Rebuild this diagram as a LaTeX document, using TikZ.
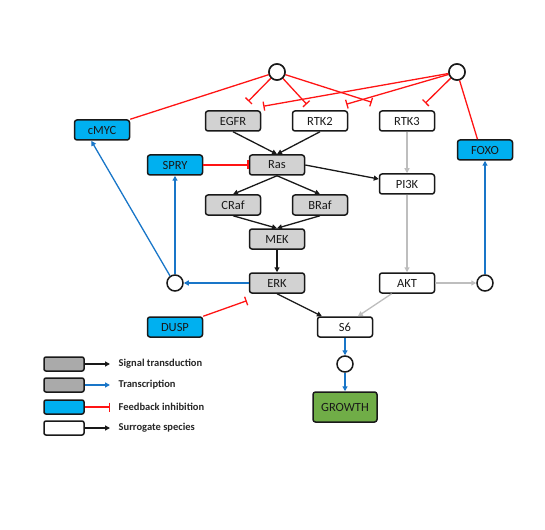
\documentclass[tikz,border=0pt]{standalone}
\usepackage{fontspec}
\setmainfont{Carlito}
\usepackage{tikz}
\usetikzlibrary{arrows.meta, calc}
\definecolor{sigGray}{RGB}{210, 210, 210}
\definecolor{legGray}{RGB}{170, 170, 170}
\definecolor{fbBlue}{RGB}{0, 176, 240}
\definecolor{txBlue}{RGB}{25, 118, 200}
\definecolor{surGray}{RGB}{190, 190, 190}
\definecolor{inhRed}{RGB}{255, 20, 20}
\definecolor{growGreen}{RGB}{112, 173, 71}

\begin{document}
\begin{tikzpicture}[x=1pt, y=-1pt, line width=1.3pt,
  species/.style={draw=black!90, line width=1.5pt, rounded corners=2.5pt, minimum width=55pt,
    minimum height=20pt, inner sep=0pt, font=\fontsize{12.5}{14}\selectfont, text=black!90},
  signal/.style={species, fill=sigGray},
  feedback/.style={species, fill=fbBlue},
  surrogate/.style={species, fill=white},
  junction/.style={draw=black!90, line width=1.5pt, fill=white, circle, minimum size=16pt, inner sep=0pt},
  legbox/.style={draw=black!90, line width=1.5pt, rounded corners=2pt, minimum width=40pt, minimum height=14pt, inner sep=0pt},
  legtext/.style={anchor=west, inner sep=2pt, font=\fontsize{10.5}{12}\selectfont\bfseries, text=black!85},
  act/.style={-{Triangle[length=5pt, width=5pt]}, color=black!90},
  surr/.style={-{Triangle[length=5pt, width=5pt]}, color=surGray},
  trans/.style={-{Triangle[length=5pt, width=5pt]}, color=txBlue},
  inhib/.style={-{Bar[width=9pt]}, color=inhRed},
  fbline/.style={color=inhRed}]
  \useasboundingbox (0, 0) rectangle (545, 529);

  % feedback hubs
  \node[junction] (hubA) at (277, 72) {};
  \node[junction] (hubB) at (457, 72) {};

  \node[feedback] (cmyc) at (102, 130) {cMYC};
  \node[signal] (egfr) at (233, 121) {EGFR};
  \node[surrogate] (rtk2) at (320, 121) {RTK2};
  \node[surrogate] (rtk3) at (407, 121) {RTK3};
  \node[feedback] (foxo) at (485, 150) {FOXO};

  \node[feedback] (spry) at (175, 165) {SPRY};
  \node[signal] (ras) at (277, 165) {Ras};
  \node[surrogate] (pi3k) at (407, 184) {PI3K};
  \node[signal] (craf) at (233, 205) {CRaf};
  \node[signal] (braf) at (320, 205) {BRaf};
  \node[signal] (mek) at (277, 239) {MEK};

  \node[junction] (hubL) at (175, 283) {};
  \node[signal] (erk) at (277, 283) {ERK};
  \node[surrogate] (akt) at (407, 283) {AKT};
  \node[junction] (hubR) at (485, 283) {};

  \node[feedback] (dusp) at (175, 327) {DUSP};
  \node[surrogate] (s6) at (345, 327) {S6};
  \node[junction] (hubS) at (345, 364) {};
  \node[species, fill=growGreen, minimum width=64pt, minimum height=30pt] (growth) at (345, 407) {GROWTH};

  % signal transduction
  \draw[act] (egfr.south) -- (ras.north);
  \draw[act] (rtk2.south) -- (ras.north);
  \draw[act] (ras.south) -- (craf.north);
  \draw[act] (ras.south) -- (braf.north);
  \draw[act] (craf.south) -- (mek.north);
  \draw[act] (braf.south) -- (mek.north);
  \draw[act] (ras.east) -- (pi3k.170);
  \draw[act] (mek.south) -- (erk.north);
  \draw[act] (erk.south) -- (s6.155);

  \draw[surr] (rtk3.south) -- (pi3k.north);
  \draw[surr] (pi3k.south) -- (akt.north);
  \draw[surr] (akt.east) -- (hubR.west);
  \draw[surr] (akt.-145) -- (s6.40);

  % transcription
  \draw[trans] (erk.west) -- (hubL.east);
  \draw[trans] (hubL.north) -- (spry.south);
  \draw[trans] (hubL.125) -- (cmyc.-135);
  \draw[trans] (hubR.north) -- (foxo.south);
  \draw[trans] (s6.south) -- (hubS.north);
  \draw[trans] (hubS.south) -- (growth.north);

  % feedback inhibition
  \draw[inhib] (spry.east) -- (ras.west);
  \draw[inhib] (dusp.north east) -- ($(erk.south west)+(-2, 7)$);
  \draw[fbline] (cmyc.north east) -- (hubA);
  \draw[fbline] (foxo.125) -- (hubB);
  \draw[inhib] (hubA) -- ($(egfr.north east)+(-13, -9)$);
  \draw[inhib] (hubA) -- ($(rtk2.north west)+(15, -6)$);
  \draw[inhib] (hubA) -- ($(rtk3.north west)+(-7, -8)$);
  \draw[inhib] (hubB) -- ($(egfr.north east)+(2, -4)$);
  \draw[inhib] (hubB) -- ($(rtk2.north east)+(-2, -6)$);
  \draw[inhib] (hubB) -- ($(rtk3.north east)+(-10, -7)$);
  \node[junction] at (hubA) {};
  \node[junction] at (hubB) {};

  % legend
  \node[legbox, fill=legGray] (leg1) at (64, 364) {};
  \node[legbox, fill=legGray] (leg2) at (64, 385) {};
  \node[legbox, fill=fbBlue] (leg3) at (64, 407) {};
  \node[legbox, fill=white] (leg4) at (64, 428) {};
  \node[legtext] (lab1) at (116, 364) {Signal transduction};
  \node[legtext] (lab2) at (116, 385) {Transcription};
  \node[legtext] (lab3) at (116, 407) {Feedback inhibition};
  \node[legtext] (lab4) at (116, 428) {Surrogate species};
  \draw[act, shorten >=6pt] (leg1.east) -- (lab1.west);
  \draw[trans, shorten >=6pt] (leg2.east) -- (lab2.west);
  \draw[inhib, shorten >=6pt] (leg3.east) -- (lab3.west);
  \draw[act, shorten >=6pt] (leg4.east) -- (lab4.west);
\end{tikzpicture}
\end{document}
